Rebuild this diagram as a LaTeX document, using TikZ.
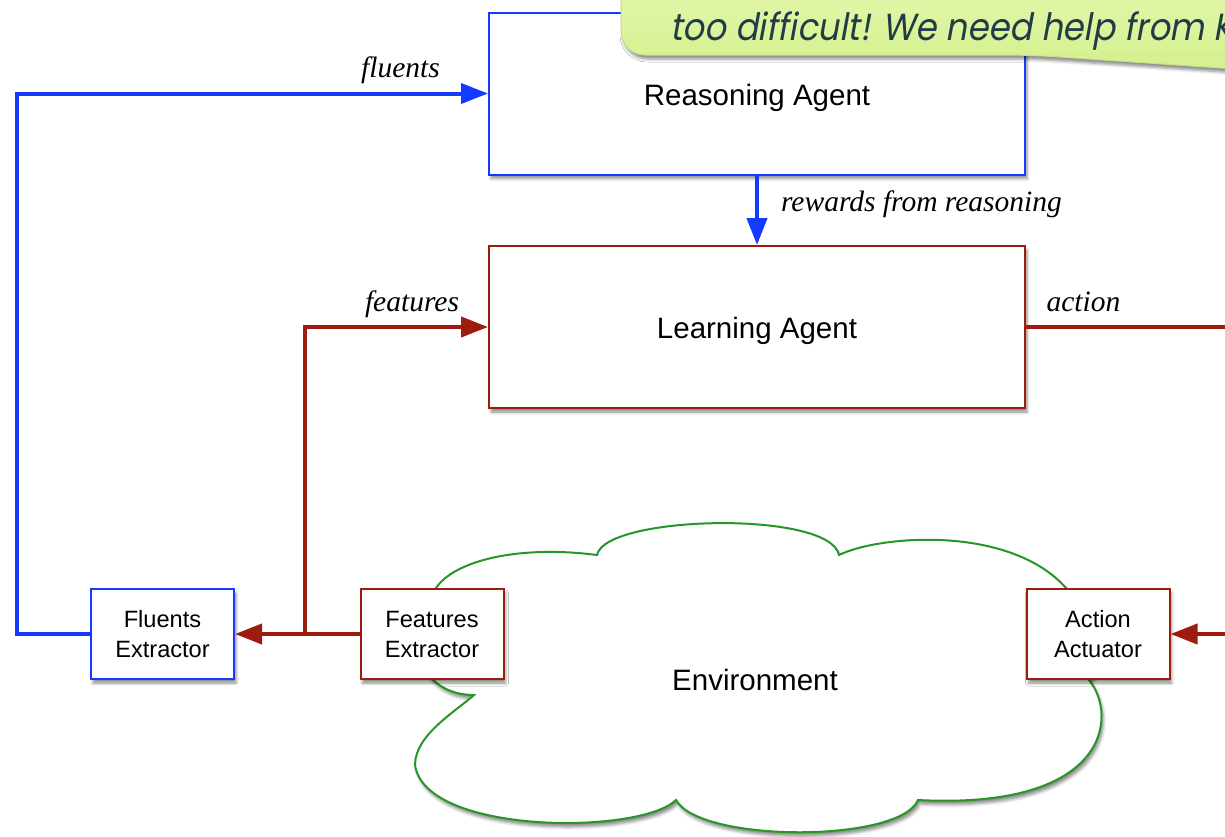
\documentclass[tikz,border=0pt]{standalone}
\usepackage{fontspec}
\setmainfont{Liberation Serif}
\newfontfamily\diagsans{Liberation Sans}
\newfontfamily\calloutfont[FakeSlant=0.18,FakeStretch=0.9]{Poppins}
\usetikzlibrary{arrows.meta,shadows.blur}

\definecolor{agentblue}{RGB}{20,58,255}
\definecolor{agentred}{RGB}{158,28,14}
\definecolor{envgreen}{RGB}{38,150,38}
\definecolor{notetext}{RGB}{34,60,70}
\definecolor{notetop}{RGB}{232,249,182}
\definecolor{notebottom}{RGB}{212,240,140}
\definecolor{noteedge}{RGB}{196,224,140}

\begin{document}
\begin{tikzpicture}[x=1pt,y=-1pt,
  softshadow/.style={blur shadow={shadow xshift=2pt,shadow yshift=-4pt,
      shadow blur radius=3pt,shadow opacity=45}},
  agentbox/.style={draw,fill=white,line width=2pt,minimum width=536pt,
      minimum height=162pt,text height=24pt,text depth=1pt,
      font=\diagsans\fontsize{29.5}{35}\selectfont,softshadow},
  partbox/.style={draw,fill=white,line width=2pt,minimum width=143pt,
      minimum height=90pt,align=center,
      font=\diagsans\fontsize{23.6}{30}\selectfont,softshadow},
  flow/.style={line width=4pt,-{Triangle[length=27pt,width=20pt]}},
  wire/.style={line width=4pt},
  lbl/.style={font=\itshape\fontsize{29.5}{35}\selectfont,anchor=base,inner sep=0pt},
]
\useasboundingbox (0,0) rectangle (1225,836);
\clip (0,0) rectangle (1225,836);

% environment cloud
\path[draw=envgreen,line width=2pt,fill=white,softshadow]
  (474,695) .. controls (420,695) and (400,640) .. (436,588)
  .. controls (455,560) and (520,545) .. (597,555)
  .. controls (605,515) and (830,510) .. (839,555)
  .. controls (880,535) and (1010,525) .. (1066,588)
  .. controls (1100,610) and (1110,660) .. (1089,680)
  .. controls (1118,715) and (1110,810) .. (918,800)
  .. controls (900,843) and (700,843) .. (676,800)
  .. controls (640,835) and (425,835) .. (415,765)
  .. controls (415,735) and (455,712) .. (474,695) -- cycle;
\node[font=\diagsans\fontsize{29.5}{35}\selectfont] (env) at (755,680) {Environment};

% agents
\node[agentbox,draw=agentblue] (reasoning) at (757,93.5) {Reasoning Agent};
\node[agentbox,draw=agentred] (learning) at (757,327) {Learning Agent};

% extractors and actuator
\node[partbox,draw=agentblue] (fluents) at (162.5,634) {Fluents\\Extractor};
\node[partbox,draw=agentred] (features) at (432,634) {Features\\Extractor};
\node[partbox,draw=agentred] (actuator) at (1098,634) {Action\\Actuator};

% connectors
\coordinate (fluentcorner) at (17,634);
\coordinate (split) at (305,634);
\coordinate (actionout) at (1240,327);
\coordinate (actionin) at (1240,634);

\draw[flow,agentblue] (fluents.west) -- (fluentcorner) |- (reasoning.west);
\draw[flow,agentblue] (reasoning.south) -- (learning.north);
\draw[flow,agentred] (features.west) -- (fluents.east);
\draw[flow,agentred] (split) |- (learning.west);
\draw[wire,agentred] (learning.east) -- (actionout);
\draw[flow,agentred] (actionin) -- (actuator.east);

% connector labels
\node[lbl] (lfluents) at (400.5,77) {fluents};
\node[lbl] (lfeatures) at (412,311) {features};
\node[lbl] (laction) at (1083.5,311) {action};
\node[lbl] (lrewards) at (921.5,211) {rewards from reasoning};

% speech bubble
\path[draw=noteedge,line width=1pt,top color=notetop,bottom color=notebottom,
      rounded corners=24pt,softshadow]
  (621,-40) -- (621,55) -- (1030,55) -- (1250,70) -- (1250,-40) -- cycle;
\node[anchor=base west,inner sep=0pt,text=notetext,
      font=\calloutfont\fontsize{37.7}{42}\selectfont] (note) at (670,40)
  {too difficult! We need help from K};
\end{tikzpicture}
\end{document}
